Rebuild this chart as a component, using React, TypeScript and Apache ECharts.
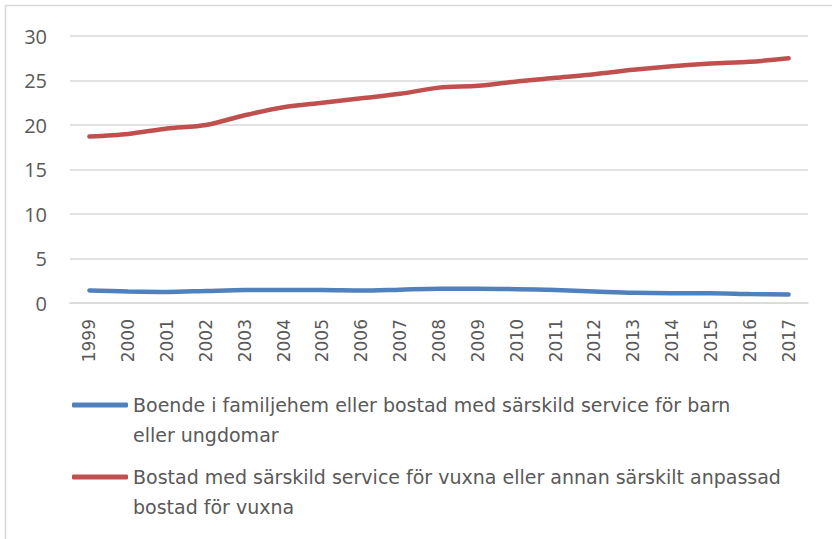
import React, { useEffect, useRef } from "react";
import * as echarts from "echarts";

const years = ["1999","2000","2001","2002","2003","2004","2005","2006","2007","2008","2009","2010","2011","2012","2013","2014","2015","2016","2017"];
const blueName = "Boende i familjehem eller bostad med särskild service för barn eller ungdomar";
const redName = "Bostad med särskild service för vuxna eller annan särskilt anpassad bostad för vuxna";
const blueValues = [1.4, 1.3, 1.25, 1.35, 1.45, 1.45, 1.45, 1.4, 1.5, 1.6, 1.6, 1.55, 1.45, 1.3, 1.15, 1.1, 1.1, 1.0, 0.95];
const redValues = [18.7, 19.0, 19.6, 20.0, 21.1, 22.0, 22.5, 23.0, 23.5, 24.2, 24.4, 24.9, 25.3, 25.7, 26.2, 26.6, 26.9, 27.1, 27.5];
const legendLines: Record<string, string[]> = {
  [blueName]: ["Boende i familjehem eller bostad med särskild service för barn", "eller ungdomar"],
  [redName]: ["Bostad med särskild service för vuxna eller annan särskilt anpassad", "bostad för vuxna"],
};

export default function App() {
  const ref = useRef<HTMLDivElement>(null);
  useEffect(() => {
    if (!ref.current) return;
    const chart = echarts.init(ref.current, null, { renderer: "svg" });
    chart.setOption({
      animation: false,
      backgroundColor: "#ffffff",
      graphic: [
        {
          type: "rect",
          shape: { x: 5.5, y: 5.5, width: 900, height: 600 },
          style: { fill: "none", stroke: "#d9d9d9", lineWidth: 1.5 },
          silent: true,
          z: -1,
        },
      ],
      grid: { left: 70, right: 24, top: 36, bottom: 236, containLabel: false },
      xAxis: {
        type: "category",
        data: years,
        boundaryGap: true,
        axisLine: { show: true, lineStyle: { color: "#d9d9d9", width: 1.5 } },
        axisTick: { show: false },
        axisLabel: {
          rotate: 90,
          margin: 16,
          color: "#595959",
          fontFamily: "DejaVu Sans",
          fontSize: 17,
          interval: 0,
        },
      },
      yAxis: {
        type: "value",
        min: 0,
        max: 30,
        interval: 5,
        axisLine: { show: false },
        axisTick: { show: false },
        splitLine: { lineStyle: { color: "#d9d9d9", width: 1.5 } },
        axisLabel: {
          margin: 23,
          color: "#595959",
          fontFamily: "Open Sans",
          fontSize: 20,
        },
      },
      legend: {
        orient: "vertical",
        left: 72,
        top: 360,
        padding: 0,
        itemWidth: 56,
        itemHeight: 5,
        itemGap: -18,
        icon: "roundRect",
        data: [blueName, redName],
        formatter: (name: string) => {
          const l = legendLines[name];
          return l ? "\n" + l[0] + "\n" + l[1] : name;
        },
        textStyle: {
          color: "#595959",
          fontFamily: "DejaVu Sans",
          fontSize: 19,
          lineHeight: 30,
        },
      },
      series: [
        {
          name: blueName,
          type: "line",
          data: blueValues,
          smooth: 0.3,
          symbol: "none",
          lineStyle: { color: "#4f81bd", width: 4.5, cap: "round" },
          itemStyle: { color: "#4f81bd" },
        },
        {
          name: redName,
          type: "line",
          data: redValues,
          smooth: 0.3,
          symbol: "none",
          lineStyle: { color: "#c0504d", width: 4.5, cap: "round" },
          itemStyle: { color: "#c0504d" },
        },
      ],
    });
    return () => chart.dispose();
  }, []);
  return <div ref={ref} style={{ width: 832, height: 539, position: "absolute", left: 0, top: 0 }} />;
}
